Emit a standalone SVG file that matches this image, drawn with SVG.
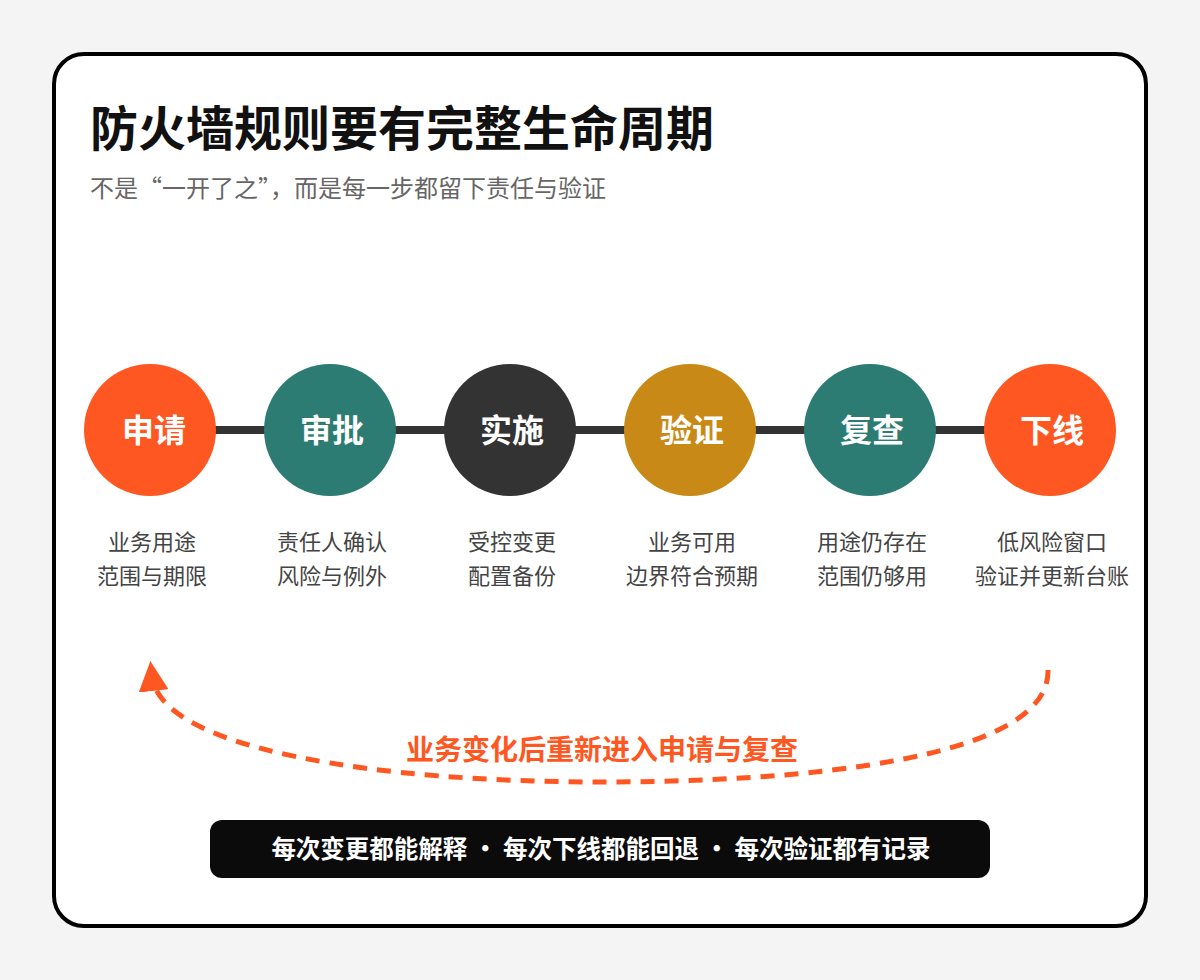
<svg xmlns="http://www.w3.org/2000/svg" width="1200" height="980" viewBox="0 0 1200 980">
<defs>
<style>
text{font-family:"Noto Sans CJK SC","Liberation Sans",sans-serif}
.lbl{fill:#fff;font-size:32px;font-weight:700;text-anchor:middle}
.desc{fill:#444;font-size:22px;text-anchor:middle}
</style>
<marker id="ah" markerWidth="6" markerHeight="6" refX="3" refY="3" orient="auto" markerUnits="strokeWidth"><path d="M0,0 L6,3 L0,6 z" fill="#ff5722"/></marker>
</defs>
<rect width="1200" height="980" fill="#f4f4f4"/>
<rect x="54" y="54" width="1092" height="872" rx="30" fill="#fff" stroke="#000" stroke-width="4"/>
<text x="90" y="146" font-size="48" font-weight="700" fill="#111">防火墙规则要有完整生命周期</text>
<text x="90" y="197" font-size="24" fill="#666">不是“一开了之”，而是每一步都留下责任与验证</text>
<g id="connectors">
<line x1="150" y1="430" x2="1050" y2="430" stroke="#333" stroke-width="8"/>
<path d="M1048,670 C1050,760 800,782 600,782 C380,782 160,750 152,676" fill="none" stroke="#ff5722" stroke-width="5" stroke-dasharray="14 10" marker-end="url(#ah)"/>
</g>
<g id="n1"><circle cx="150" cy="430" r="66" fill="#ff5722"/><text class="lbl" x="154" y="442">申请</text><text class="desc" x="152" y="550">业务用途</text><text class="desc" x="152" y="584">范围与期限</text></g>
<g id="n2"><circle cx="330" cy="430" r="66" fill="#2c7c73"/><text class="lbl" x="332" y="442">审批</text><text class="desc" x="332" y="550">责任人确认</text><text class="desc" x="332" y="584">风险与例外</text></g>
<g id="n3"><circle cx="510" cy="430" r="66" fill="#333"/><text class="lbl" x="512" y="442">实施</text><text class="desc" x="512" y="550">受控变更</text><text class="desc" x="512" y="584">配置备份</text></g>
<g id="n4"><circle cx="690" cy="430" r="66" fill="#c98916"/><text class="lbl" x="692" y="442">验证</text><text class="desc" x="692" y="550">业务可用</text><text class="desc" x="692" y="584">边界符合预期</text></g>
<g id="n5"><circle cx="870" cy="430" r="66" fill="#2c7c73"/><text class="lbl" x="872" y="442">复查</text><text class="desc" x="872" y="550">用途仍存在</text><text class="desc" x="872" y="584">范围仍够用</text></g>
<g id="n6"><circle cx="1050" cy="430" r="66" fill="#ff5722"/><text class="lbl" x="1052" y="442">下线</text><text class="desc" x="1052" y="550">低风险窗口</text><text class="desc" x="1052" y="584">验证并更新台账</text></g>
<text x="602" y="760" font-size="28" font-weight="700" fill="#ff5722" text-anchor="middle">业务变化后重新进入申请与复查</text>
<g id="footer"><rect x="210" y="820" width="780" height="58" rx="12" fill="#0b0b0b"/><text x="601" y="858" font-size="24.5" font-weight="700" fill="#fff" text-anchor="middle">每次变更都能解释 · 每次下线都能回退 · 每次验证都有记录</text></g>
</svg>
